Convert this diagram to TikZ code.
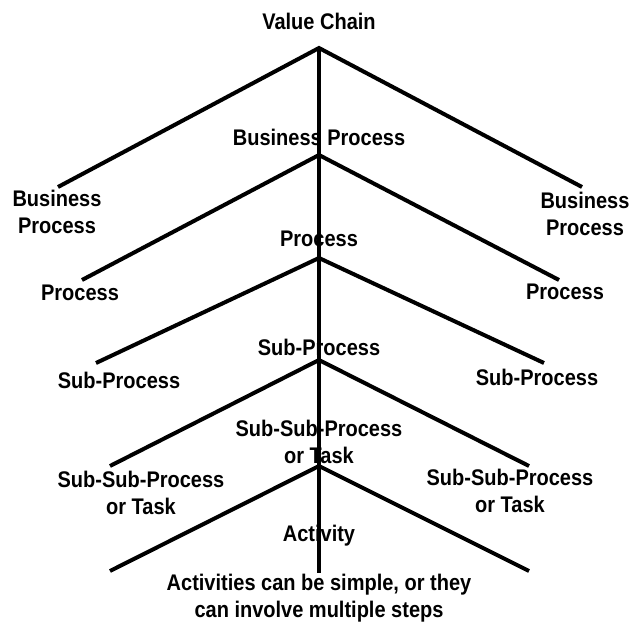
\documentclass[tikz,border=0pt]{standalone}
\usepackage{fontspec}
\setmainfont{Liberation Sans}[FakeStretch=0.885]
\begin{document}
\begin{tikzpicture}[x=1pt,y=-1pt,
  lbl/.style={font=\fontsize{22.6}{27}\selectfont\bfseries, align=center, inner sep=0pt},
  branch/.style={line width=4pt, line join=miter, line cap=butt}]
\useasboundingbox (0,0) rectangle (630,626);
% connector points
\coordinate (a1) at (319,48);
\coordinate (l1) at (58,187);
\coordinate (r1) at (582,187);
\coordinate (a2) at (319,155);
\coordinate (l2) at (82,280);
\coordinate (r2) at (559,280);
\coordinate (a3) at (319,258);
\coordinate (l3) at (96,363);
\coordinate (r3) at (544,363);
\coordinate (a4) at (319,360);
\coordinate (l4) at (110,466);
\coordinate (r4) at (529,466);
\coordinate (a5) at (319,466);
\coordinate (l5) at (110,571);
\coordinate (r5) at (529,571);
\coordinate (bot) at (319,573);
% lines
\draw[branch] (l1) -- (a1) -- (r1);
\draw[branch] (l2) -- (a2) -- (r2);
\draw[branch] (l3) -- (a3) -- (r3);
\draw[branch] (l4) -- (a4) -- (r4);
\draw[branch] (l5) -- (a5) -- (r5);
\draw[branch] (a1) -- (bot);
% labels
\node[lbl] (vc) at (319,21) {Value Chain};
\node[lbl] (bpc) at (319,137) {Business Process};
\node[lbl] (bpl) at (57,212) {Business\\Process};
\node[lbl] (bpr) at (585,214) {Business\\Process};
\node[lbl] (pc) at (319,239) {Process};
\node[lbl] (pl) at (80,293) {Process};
\node[lbl] (pr) at (565,292) {Process};
\node[lbl] (spc) at (319,347) {Sub-Process};
\node[lbl] (spl) at (119,380) {Sub-Process};
\node[lbl] (spr) at (537,377) {Sub-Process};
\node[lbl] (sspc) at (319,442) {Sub-Sub-Process\\or Task};
\node[lbl] (sspl) at (141,493) {Sub-Sub-Process\\or Task};
\node[lbl] (sspr) at (510,491) {Sub-Sub-Process\\or Task};
\node[lbl] (act) at (319,536) {Activity};
\node[lbl] (note) at (319,598) {Activities can be simple, or they\\can involve multiple steps};
\end{tikzpicture}
\end{document}
